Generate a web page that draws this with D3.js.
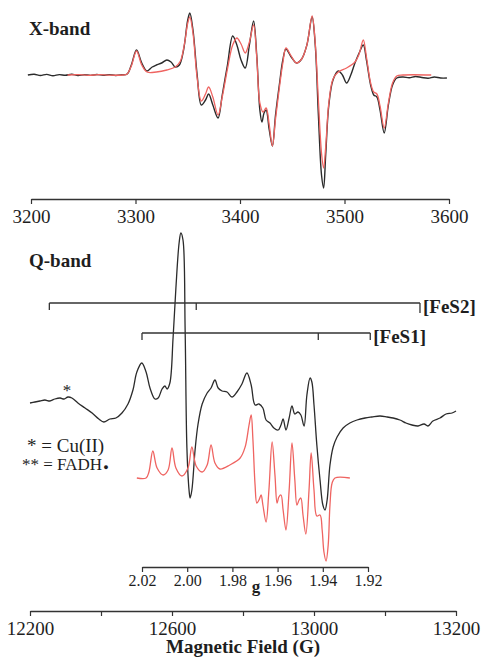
<!DOCTYPE html>
<html>
<head>
<meta charset="utf-8">
<script src="https://cdn.jsdelivr.net/npm/d3@7"></script>
<style>
    body { margin: 0; background: #fff; }
    svg { display: block; }
    svg text { font-family: "Liberation Serif", "DejaVu Serif", serif; }
</style>
</head>
<body>
<div id="chart-div"></div>
<script>
//---------------------------------//
// Data        //
//---------------------------------//

// X-band, experimental (black)
const xbandField = [3197, 3203, 3209, 3215, 3221, 3227, 3233, 3239, 3245, 3251, 3257, 3263, 3269, 3275, 3281, 3287,
    3292, 3296, 3301, 3306, 3311, 3316, 3320, 3325, 3330, 3334, 3338, 3342, 3346, 3350, 3352, 3355, 3359,
    3363, 3367, 3370, 3374, 3379, 3383, 3388, 3393, 3397, 3401, 3405, 3409, 3413, 3416, 3419, 3421, 3423,
    3425, 3428, 3431, 3434, 3438, 3441, 3444, 3449, 3454, 3459, 3464, 3469, 3472, 3475, 3478, 3480, 3482,
    3485, 3489, 3494, 3498, 3502, 3506, 3510, 3514, 3518, 3521, 3525, 3528, 3531, 3534, 3538, 3542, 3546,
    3550, 3556, 3562, 3568, 3574, 3580, 3586, 3592, 3598];
const xbandExp = [0, 0.8, -0.5, 0.6, -0.8, 0.4, -0.3, 0.7, -0.6, 0.3, -0.4, 0.5, -0.3, 0.4, -0.5, 0.2,
    1, 10, 25, 12, 4, 8, 10, 12, 15, 13, 8, 10, 25, 55, 62, 45, 0,
    -30, -25, -19, -30, -43, -20, 10, 39, 30, 15, 7, 30, 54, 20, -35, -47, -38,
    -35, -55, -71, -40, -7, 15, 26, 18, 12, 16, 30, 58, 30, -40, -100, -113, -80,
    -30, -5, 4, 0, -8, 0, 12, 22, 30, 15, -10, -20, -22, -35, -58, -30, -10,
    -3, -2, -2.8, -1.5, -2.5, -3.2, -2, -3, -3];

// X-band, simulation (red)
const xbandSimField = [3235, 3245, 3255, 3265, 3275, 3288, 3292, 3296, 3301, 3306, 3311, 3320, 3330, 3338,
    3343, 3347, 3350, 3352, 3355, 3359, 3363, 3367, 3370, 3374, 3379, 3383, 3388, 3393, 3397, 3401, 3405,
    3409, 3413, 3416, 3419, 3422, 3425, 3428, 3431, 3434, 3438, 3441, 3444, 3449, 3454, 3459, 3464, 3469,
    3472, 3475, 3478, 3480, 3482, 3485, 3489, 3494, 3502, 3510, 3514, 3518, 3521, 3525, 3528, 3531, 3534,
    3538, 3542, 3546, 3550, 3556, 3583];
const xbandSim = [0, 0.4, -0.3, 0.3, -0.2, 0, 1, 9, 24, 10, 3, 3, 5, 8,
    14, 32, 52, 58, 42, -3, -26, -19, -12, -22, -40, -22, 6, 30, 37, 31, 22,
    33, 50, 18, -28, -37, -33, -50, -71, -44, -10, 12, 27, 19, 12, 16, 30, 59,
    32, -25, -78, -93, -72, -28, -4, 3, 7, 13, 21, 35, 18, -8, -17, -19, -31,
    -53, -28, -8, -1, 0, 0];

// Q-band, experimental (black)
const qbandField = [12200, 12214, 12228, 12242, 12256, 12270, 12285, 12296, 12307, 12318, 12335, 12355, 12375,
    12394, 12408, 12425, 12442, 12459, 12476, 12490, 12501, 12515, 12527, 12538, 12552, 12561, 12572, 12580,
    12586, 12594, 12603, 12611, 12620, 12625, 12631, 12637, 12642, 12648, 12651, 12656, 12665, 12673, 12685,
    12699, 12710, 12721, 12730, 12741, 12755, 12769, 12783, 12797, 12811, 12823, 12834, 12845, 12856, 12865,
    12876, 12887, 12899, 12907, 12913, 12921, 12930, 12938, 12946, 12955, 12963, 12972, 12980, 12989, 12994,
    13000, 13008, 13017, 13025, 13031, 13037, 13045, 13054, 13065, 13082, 13101, 13121, 13144, 13163, 13186,
    13206, 13223, 13242, 13259, 13276, 13293, 13310, 13321, 13335, 13355, 13372, 13389, 13400];
const qbandExp = [75, 76, 77, 78, 77, 79, 80, 79, 81, 80, 75, 70, 65,
    59, 56, 59, 60, 65, 74, 88, 106, 115, 106, 90, 79, 80, 89, 92,
    89, 95, 140, 190, 235, 245, 238, 148, 30, -12, -20, -12, 28, 53, 74,
    85, 90, 98, 90, 87, 86, 81, 86, 94, 105, 93, 73, 74, 70, 58,
    55, 50, 48, 53, 59, 48, 60, 72, 64, 66, 63, 52, 83, 100, 96,
    73, 33, -2, -27, -32, -22, 13, 31, 41, 50, 55, 58, 60, 61, 62,
    61, 60, 58, 55, 53, 52, 54, 52, 57, 60, 64, 65, 67];

// Q-band, simulation (red)
const qbandSimField = [12501, 12527, 12535, 12546, 12558, 12575, 12589, 12600, 12611, 12628, 12645, 12656,
    12668, 12685, 12699, 12710, 12721, 12735, 12763, 12792, 12806, 12817, 12823, 12828, 12834, 12839, 12845,
    12851, 12856, 12865, 12873, 12882, 12890, 12896, 12901, 12907, 12913, 12921, 12930, 12938, 12946, 12952,
    12958, 12963, 12969, 12977, 12986, 12992, 13000, 13008, 13017, 13023, 13028, 13034, 13040, 13045, 13051,
    13059, 13101];
const qbandSim = [0, 0, 6, 27, 10, 3, 8, 30, 10, 2, 10, 31,
    12, 6, 13, 33, 15, 9, 13, 20, 31, 53, 63, 38, -7, -25, -22,
    -17, -27, -44, -12, 36, 3, -25, -19, -17, -32, -52, -12, 35, -2, -27,
    -22, -20, -37, -56, -12, 25, -12, -38, -37, -52, -74, -83, -67, -27, -5,
    0, 0];

// axes
const xbandTicks = [3200, 3300, 3400, 3500, 3600];
const fieldTicks = [12200, 12400, 12600, 12800, 13000, 13200, 13400];
const fieldTickLabels = ['12200', '', '12600', '', '13000', '', '13200'];
const gTicks = [2.02, 2.00, 1.98, 1.96, 1.94, 1.92];

// stick diagrams, in g
const fes2Marks = [2.061, 1.996, 1.897];
const fes1Marks = [2.020, 1.942, 1.919];

//---------------------------------//
// Figure Object                   //
//---------------------------------//

window.Fig = window.Fig || {};

Fig.init = function() {
    Fig.setup.initConsts();
    Fig.setup.initSvg();
    Fig.setup.initScales();

    Fig.draw.xband();
    Fig.draw.qband();
    Fig.draw.brackets();
    Fig.draw.labels();
};

Fig.setup = {
    initConsts: function() {
        Fig.width = 481;
        Fig.height = 658;

        Fig.black = '#2b2b2b';
        Fig.red = '#ef6461';
        Fig.axisColor = '#333';
        Fig.textColor = '#1e1e1e';
    },

    initSvg: function() {
        Fig.svg = d3.select('#chart-div')
                    .append('svg')
                     .attr('width', Fig.width)
                     .attr('height', Fig.height);
    },

    initScales: function() {
        Fig.xbandX = d3.scaleLinear().domain([3200, 3600]).range([31, 449]);
        Fig.xbandY = d3.scaleLinear().domain(d3.extent(xbandExp)).range([188, 13]);

        Fig.qX = d3.scaleLinear().domain([12200, 13400]).range([30, 456]);
        Fig.qY = d3.scaleLinear().domain([-83, 245]).range([561, 233]);

        Fig.gX = d3.scaleLinear().domain([2.02, 1.92]).range([142, 368]);
    }
};

Fig.helpers = {
    trace: function(xs, ys, sx, sy, color, width) {
        let line = d3.line()
                     .x(d => sx(d[0]))
                     .y(d => sy(d[1]))
                     .curve(d3.curveCatmullRom.alpha(0.5));
        Fig.svg.append('path')
               .datum(d3.zip(xs, ys))
               .attr('d', line)
               .attr('fill', 'none')
               .attr('stroke', color)
               .attr('stroke-width', width)
               .attr('stroke-linejoin', 'round');
    },

    axis: function(scale, ticks, labels, y0, labelY, fontSize) {
        let ax = d3.axisBottom(scale)
                   .tickValues(ticks)
                   .tickSize(5)
                   .tickSizeOuter(0)
                   .tickFormat((d, i) => labels[i]);
        let g = Fig.svg.append('g')
                       .attr('transform', 'translate(0,' + y0 + ')')
                       .call(ax)
                       .attr('font-family', null)
                       .attr('font-size', fontSize);
        g.select('.domain').attr('stroke', Fig.axisColor).attr('stroke-width', 1.3);
        g.selectAll('.tick line').attr('stroke', Fig.axisColor).attr('stroke-width', 1.2);
        g.selectAll('.tick text')
         .attr('dy', null)
         .attr('y', labelY)
         .attr('fill', Fig.textColor);
        return g;
    },

    text: function(x, y, str, size, bold, anchor) {
        return Fig.svg.append('text')
                      .attr('x', x).attr('y', y)
                      .attr('fill', Fig.textColor)
                      .attr('font-size', size)
                      .attr('font-weight', bold ? 'bold' : 'normal')
                      .attr('text-anchor', anchor || 'start')
                      .text(str);
    }
};

Fig.draw = {
    xband: function() {
        Fig.helpers.axis(Fig.xbandX, xbandTicks, xbandTicks.map(String), 199, 24, 19);
        Fig.helpers.trace(xbandField, xbandExp, Fig.xbandX, Fig.xbandY, Fig.black, 1.4);
        Fig.helpers.trace(xbandSimField, xbandSim, Fig.xbandX, Fig.xbandY, Fig.red, 1.3);
    },

    qband: function() {
        Fig.helpers.axis(Fig.gX, gTicks, gTicks.map(d => d.toFixed(2)), 567, 19, 16);
        Fig.helpers.axis(Fig.qX, fieldTicks, fieldTickLabels, 611, 24, 19);
        Fig.helpers.trace(qbandField, qbandExp, Fig.qX, Fig.qY, Fig.black, 1.3);
        Fig.helpers.trace(qbandSimField, qbandSim, Fig.qX, Fig.qY, Fig.red, 1.3);
    },

    brackets: function() {
        // [FeS2] and [FeS1] stick diagrams
        let rows = [
            {marks: fes2Marks, y: 303, drop: [7, 7, 10], name: '[FeS2]'},
            {marks: fes1Marks, y: 333, drop: [7, 7, 7], name: '[FeS1]'}
        ];
        rows.forEach(function(row) {
            let xs = row.marks.map(Fig.gX);
            Fig.svg.append('line')
                   .attr('x1', xs[0]).attr('x2', xs[2])
                   .attr('y1', row.y).attr('y2', row.y)
                   .attr('stroke', Fig.axisColor).attr('stroke-width', 1.3);
            Fig.svg.selectAll(null)
                   .data(xs)
                   .enter().append('line')
                    .attr('x1', d => d).attr('x2', d => d)
                    .attr('y1', row.y)
                    .attr('y2', (d, i) => row.y + row.drop[i])
                    .attr('stroke', Fig.axisColor).attr('stroke-width', 1.3);
            Fig.helpers.text(xs[2] + 3, row.y + 10, row.name, 19, true);
        });
    },

    labels: function() {
        Fig.helpers.text(29, 35, 'X-band', 19, true);
        Fig.helpers.text(29, 267, 'Q-band', 19, true);

        Fig.helpers.text(67, 396, '*', 17, false, 'middle');
        Fig.helpers.text(27, 452, '* = Cu(II)', 19, false);
        let t = Fig.helpers.text(22, 470, '** = FADH', 17, false);
        t.append('tspan').attr('font-size', 9).attr('dx', 1).text('\u25CF');

        Fig.helpers.text(256, 592, 'g', 17, true, 'middle');
        Fig.helpers.text(243, 653, 'Magnetic Field (G)', 19, true, 'middle');
    }
};

document.addEventListener('DOMContentLoaded', Fig.init);
</script>
</body>
</html>
